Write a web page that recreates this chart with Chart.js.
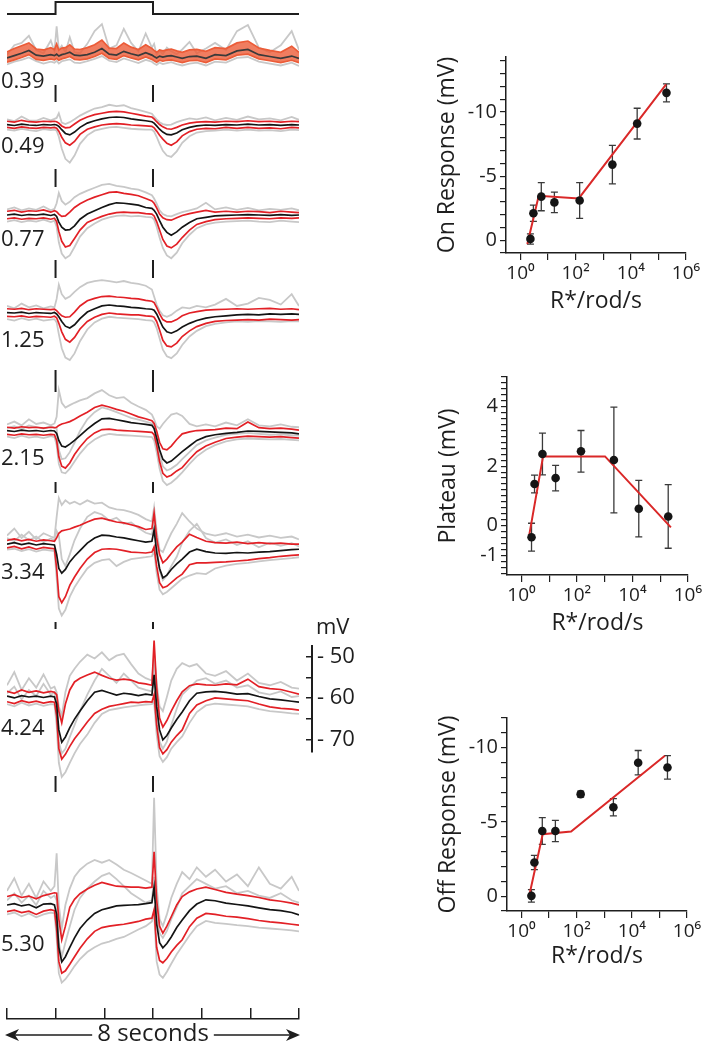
<!DOCTYPE html>
<html><head><meta charset="utf-8">
<script src="https://cdn.jsdelivr.net/npm/chart.js@4.4.1/dist/chart.umd.min.js"></script>
<style>
html,body{margin:0;padding:0;background:#fff;}
body{width:704px;height:1044px;position:relative;overflow:hidden;font-family:'Open Sans',sans-serif;color:#1e1e1e;}
canvas{position:absolute;}
.lbl{position:absolute;font-size:22px;line-height:22px;white-space:nowrap;color:#1e1e1e;}
</style></head><body>
<script>
// ---------------- DATA ----------------
// time grid (s) of the voltage traces
const T = [0,0.2,0.4,0.6,0.8,1.0,1.2,1.3,
  1.36,1.42,1.5,1.6,1.72,1.85,2.0,2.2,2.4,2.6,2.8,3.0,3.2,3.4,3.6,3.8,3.97,
  4.03,4.1,4.18,4.27,4.38,4.5,4.65,4.8,5.0,5.2,5.45,5.7,6.0,6.3,6.6,6.9,7.2,7.5,7.8,8.0];
const intensities = ['0.39','0.49','0.77','1.25','2.15','3.34','4.24','5.30'];
const stimTimes = [0, 1.33, 4.0, 8];
const stimLevels = [0, 1, 0, 0];
const timeTicks = [0, 1.333, 2.667, 4, 5.333, 6.667, 8];
const scaleBarTicks = [-70, -65, -60, -55, -50];

// voltage relative to rest (mV): mean, mean+SD, mean-SD, individual traces
const mean039 = [-0.2,0.3,0.8,1.4,0.4,0.2,0.5,0.3, 0.6,0.2,0.5,0.7,1.0,0.4,0.3,0.5,1.0,1.8,0.6,0.4,1.2,0.7,0.3,0.9,0.4, 0.1,-0.2,0.2,0,0.2,0.3,0,-0.3,0.1,0.2,-0.3,0.5,0.3,1.3,1.6,0.5,0.1,-0.3,0.2,-0.3];
const up039 = [1.1,1.8,2.4,3.0,1.7,1.5,2.0,1.6, 2.8,1.5,1.9,2.0,2.6,1.7,1.6,2.0,2.6,3.6,1.9,1.8,3.0,2.1,1.6,2.6,1.8, 1.4,1.0,1.5,1.3,1.5,1.7,1.3,1.0,1.5,1.6,1.2,2.0,1.8,3.0,3.4,1.9,1.4,1.0,2.3,1.0];
const lo039 = [-1.1,-0.6,-0.1,0.5,-0.5,-0.7,-0.4,-0.6, -0.3,-0.7,-0.4,-0.2,0.1,-0.5,-0.6,-0.4,0.1,0.8,-0.3,-0.5,0.3,-0.2,-0.6,0,-0.5, -0.8,-1.1,-0.7,-0.9,-0.7,-0.6,-0.9,-1.2,-0.8,-0.7,-1.2,-0.4,-0.6,0.4,0.6,-0.4,-0.8,-1.2,-0.7,-1.2];
const g1_039 = [0.5,2.5,3.0,4.5,1.5,0.8,3.5,1.2, 6.5,1.5,2.4,1.0,4.2,1.0,0.8,2.8,5.5,7.0,1.8,2.5,6.0,3.0,1.2,5.0,2.0, 2.8,0.5,1.4,0.6,2.0,1.2,0.6,1.6,3.2,0.8,1.8,3.0,1.5,5.5,6.8,2.0,1.0,2.5,5.5,1.5];
const g2_039 = [-1.6,-1.0,-0.6,-0.1,-0.9,-1.4,-1.0,-1.2, -0.8,-1.4,-0.9,-0.7,-0.5,-1.2,-1.3,-0.9,-0.4,0.2,-0.8,-1.1,-0.3,-0.8,-1.3,-0.6,-1.0, -1.4,-1.7,-1.2,-1.5,-1.3,-1.1,-1.5,-1.8,-1.4,-1.2,-1.8,-1.0,-1.2,-0.2,0,-1.0,-1.4,-1.8,-1.2,-1.9];

const mean049 = [0.1,-0.1,0.2,0,-0.1,0.1,0,0.1, 0,-0.3,-1.0,-1.8,-2.1,-1.5,-0.5,0.4,0.9,1.3,1.6,1.7,1.6,1.3,1.1,0.9,0.7, 0.4,-0.2,-0.9,-1.5,-2.0,-2.1,-1.7,-1.0,-0.5,-0.2,0,-0.1,0.1,0,0.2,0,0.1,-0.1,0.1,0];
const up049 = [0.8,0.6,1.0,0.7,0.6,0.8,0.7,0.8, 0.7,0.4,-0.2,-0.6,-0.5,0.2,1.0,1.7,2.2,2.5,2.8,2.9,2.8,2.5,2.2,1.9,1.7, 1.3,0.7,0.1,-0.4,-0.8,-0.9,-0.5,0,0.4,0.6,0.7,0.6,0.8,0.7,0.9,0.7,0.8,0.6,0.8,0.7];
const lo049 = [-0.5,-0.7,-0.4,-0.6,-0.7,-0.5,-0.6,-0.5, -0.7,-1.3,-2.6,-3.8,-4.3,-3.5,-2.0,-0.9,-0.4,0,0.2,0.3,0.2,0,-0.1,-0.2,-0.3, -0.6,-1.3,-2.2,-3.0,-3.9,-4.3,-3.6,-2.3,-1.4,-0.9,-0.7,-0.8,-0.5,-0.7,-0.5,-0.7,-0.6,-0.8,-0.5,-0.6];
const g1_049 = [1.2,0.8,1.8,1.0,0.9,1.5,1.0,1.3, 1.5,2.5,0.5,0.2,0.6,1.2,2.0,2.8,3.5,3.8,4.3,4.0,4.2,3.6,3.2,2.8,2.4, 1.8,1.2,0.6,0.2,0,0.1,0.6,1.0,1.4,1.2,1.6,1.0,1.5,1.1,1.8,1.2,1.4,1.0,1.7,1.1];
const g2_049 = [-1.0,-1.2,-0.8,-1.1,-1.3,-0.9,-1.1,-1.0, -1.2,-2.5,-5.0,-7.2,-8.0,-6.5,-4.0,-2.2,-1.2,-0.8,-0.5,-0.4,-0.6,-0.8,-0.9,-1.0,-1.0, -1.4,-2.5,-4.0,-5.5,-6.5,-6.8,-5.6,-3.8,-2.4,-1.6,-1.3,-1.2,-1.0,-1.2,-1.0,-1.2,-1.1,-1.3,-1.0,-1.1];

const mean077 = [0,0.2,-0.1,0.1,0,0.2,-0.1,0.1, -0.3,-1.5,-2.6,-3.2,-3.1,-2.3,-0.9,0.2,0.9,1.6,2.2,2.6,2.5,2.3,2.1,1.6,1.4, 1.0,0.2,-1.2,-2.6,-3.7,-4.3,-3.6,-2.6,-1.6,-0.8,-0.5,-0.2,-0.1,0,0.1,0,-0.1,0.1,-0.1,0];
const up077 = [0.8,1.0,0.6,0.9,0.8,1.1,0.6,0.9, 0.7,0.2,-0.3,-0.2,0.6,1.6,2.4,3.2,3.8,4.3,4.8,4.9,4.6,4.4,4.1,3.5,3.0, 2.5,1.5,0.2,-0.6,-1.0,-1.1,-0.6,-0.1,0.3,0.6,1.0,0.6,0.8,0.6,0.8,0.7,0.5,0.8,0.6,0.5];
const lo077 = [-0.8,-0.6,-0.9,-0.7,-0.8,-0.6,-0.9,-0.7, -1.4,-3.5,-5.6,-6.8,-6.5,-5.0,-3.2,-1.6,-0.9,-0.3,0.2,0.5,0.6,0.5,0.5,0.3,0.2, -0.2,-1.4,-3.2,-5.2,-6.6,-7.0,-6.2,-4.8,-3.2,-2.0,-1.4,-1.0,-0.8,-0.7,-0.6,-0.7,-0.8,-0.6,-0.7,-0.6];
const g1_077 = [1.2,1.6,1.0,1.4,1.1,1.8,1.0,1.3, 2.5,4.7,3.0,2.2,2.8,3.8,4.5,5.2,5.8,6.4,6.6,6.2,6.0,5.6,5.4,4.8,4.2, 3.5,2.4,1.0,0.2,-0.2,-0.3,0.2,0.6,1.0,1.4,2.6,1.2,1.6,1.1,1.5,1.0,1.3,1.1,1.4,1.0];
const g2_077 = [-1.4,-1.1,-1.5,-1.2,-1.4,-1.0,-1.5,-1.2, -2.5,-5.8,-8.2,-9.2,-8.6,-6.8,-4.6,-2.8,-1.8,-1.0,-0.5,-0.2,-0.1,-0.3,-0.2,-0.4,-0.5, -1.0,-2.5,-4.8,-7.0,-8.6,-9.2,-8.0,-6.0,-4.2,-2.8,-2.0,-1.6,-1.4,-1.3,-1.2,-1.4,-1.5,-1.2,-1.4,-1.5];

const mean125 = [0.1,0,0.2,-0.1,0.1,0,-0.1,0.1, -0.2,-0.8,-1.8,-2.8,-3.2,-2.5,-1.2,0.2,0.9,1.5,1.7,1.5,1.4,1.2,1.1,0.9,0.8, 0.6,-0.2,-1.5,-3.0,-4.0,-4.3,-3.8,-3.0,-2.2,-1.6,-1.1,-0.8,-0.6,-0.4,-0.3,-0.4,-0.2,-0.3,-0.2,-0.3];
const up125 = [0.9,0.8,1.0,0.7,0.9,0.8,0.7,0.8, 0.5,0,-0.6,-0.9,-0.8,0.2,1.5,2.6,3.1,3.5,3.6,3.4,3.3,3.1,3.0,2.7,2.5, 2.2,1.2,-0.2,-1.4,-1.9,-1.9,-1.4,-0.6,0,0.3,0.6,0.7,0.8,0.9,0.8,0.9,1.0,0.8,0.9,0.7];
const lo125 = [-0.7,-0.8,-0.6,-0.9,-0.7,-0.8,-0.9,-0.7, -1.0,-2.2,-4.0,-5.6,-6.2,-5.2,-3.4,-1.8,-0.9,-0.3,0,-0.2,-0.3,-0.4,-0.4,-0.6,-0.7, -0.9,-1.8,-3.6,-5.8,-7.0,-7.2,-6.4,-5.0,-3.8,-2.9,-2.2,-1.8,-1.6,-1.5,-1.4,-1.5,-1.3,-1.4,-1.5,-1.4];
const g1_125 = [1.5,1.0,2.0,1.2,1.6,1.0,1.4,1.2, 3.0,6.0,4.0,3.0,3.5,4.5,5.5,6.4,6.8,7.0,6.8,6.5,6.8,6.4,6.2,5.8,5.0, 3.5,1.8,0.5,-0.5,-0.8,-0.4,0.5,1.2,1.0,1.5,1.2,1.8,3.0,1.5,2.0,3.2,2.8,1.8,4.0,1.5];
const g2_125 = [-1.3,-1.6,-1.1,-1.5,-1.2,-1.6,-1.4,-1.3, -2.0,-4.5,-7.5,-9.5,-10.0,-8.6,-6.0,-3.5,-2.0,-1.2,-0.8,-1.0,-1.1,-1.2,-1.3,-1.5,-1.6, -2.0,-3.2,-5.4,-7.8,-9.2,-9.6,-8.6,-6.8,-5.0,-3.8,-2.8,-2.3,-2.0,-1.8,-1.9,-1.7,-1.8,-1.9,-1.7,-1.8];

const mean215 = [0.1,-0.1,0.2,0,0.1,-0.1,0.1,0, -0.5,-2.0,-3.2,-3.4,-2.8,-2.0,-1.0,0.4,1.6,2.6,2.7,2.4,2.1,1.8,1.6,1.4,1.2, 0.5,-1.5,-4.0,-6.0,-6.8,-6.4,-5.4,-4.4,-3.2,-2.0,-1.2,-0.8,-0.5,-0.3,0,-0.1,-0.2,-0.3,-0.4,-0.6];
const up215 = [0.8,0.6,0.9,0.7,0.8,0.6,0.8,0.7, 0.8,1.2,1.5,1.7,2.0,2.5,3.2,4.0,5.0,5.5,5.1,4.6,4.2,3.6,3.0,2.6,2.2, 1.6,0,-2.4,-3.8,-4.0,-3.2,-1.8,-0.6,-0.2,0.1,0.2,0.3,0.6,0.5,1.9,0.7,0.5,0.6,0.4,0.2];
const lo215 = [-0.7,-0.9,-0.6,-0.8,-0.7,-0.9,-0.7,-0.8, -2.0,-5.5,-7.5,-7.9,-6.8,-5.0,-3.4,-1.6,-0.4,0.3,0.4,0.2,0.1,0,-0.1,-0.2,-0.3, -0.8,-3.0,-6.5,-9.0,-9.8,-9.4,-8.5,-7.8,-6.0,-4.4,-3.2,-2.4,-1.6,-1.3,-1.1,-1.2,-1.3,-1.2,-1.4,-1.5];
const g1_215 = [1.4,2.0,1.2,2.5,1.5,1.8,1.2,1.6, 3.0,8.7,6.0,5.0,5.5,6.0,6.5,7.0,8.0,8.7,7.6,7.0,7.2,6.0,5.2,4.5,3.5, 2.5,1.0,0.5,1.5,2.5,3.5,3.8,3.2,1.5,1.0,1.4,1.0,1.8,1.2,2.5,1.2,1.0,1.4,0.9,0.8];
const g2_215 = [-1.2,-1.5,-1.0,-1.4,-1.2,-1.5,-1.1,-1.3, -3.0,-7.0,-8.8,-9.0,-8.0,-6.5,-4.8,-3.0,-1.8,-1.0,-0.6,-0.8,-0.9,-1.0,-1.1,-1.2,-1.3, -2.0,-4.5,-8.0,-10.6,-11.5,-11.0,-10.0,-8.8,-7.0,-5.4,-4.0,-3.0,-2.2,-1.8,-1.6,-1.7,-1.8,-1.7,-1.9,-2.0];
const g3_215 = [0.6,1.0,0.4,1.2,0.8,0.5,1.0,0.7, 0.5,-4.0,-6.0,-5.8,-4.5,-2.5,0,2.5,4.0,5.0,4.6,4.0,3.4,2.8,2.4,2.0,1.6, 1.0,-2.0,-5.0,-7.5,-8.4,-8.0,-7.2,-6.0,-4.5,-3.0,-2.0,-1.4,-0.8,-0.6,-0.4,-0.6,-0.8,-0.7,-0.9,-1.0];

const mean334 = [0.2,0.5,0.1,0.4,0,0.3,0.1,0, -2.0,-5.0,-6.0,-5.2,-3.6,-2.4,-1.2,0.4,1.5,2.1,2.0,1.7,1.5,1.2,0.9,0.6,0.8, 3.2,-1.5,-5.0,-7.0,-6.4,-5.2,-4.0,-3.0,-1.5,-0.9,-1.4,-1.7,-1.8,-1.6,-1.7,-1.5,-1.4,-1.2,-1.0,-0.9];
const up334 = [1.0,1.3,0.9,1.2,0.8,1.1,0.9,0.8, 1.5,2.5,3.0,3.2,3.4,3.8,4.2,4.9,5.5,5.7,5.3,4.9,4.7,4.3,3.9,3.3,3.5, 6.8,1.5,-2.0,-3.8,-3.0,-1.8,-0.4,0.6,2.3,1.6,0.8,0.5,0.4,0.6,0.3,0.5,0.3,0.4,0.2,0.2];
const lo334 = [-0.6,-0.3,-0.8,-0.4,-0.9,-0.5,-0.7,-0.8, -5.0,-11.0,-12.3,-11.0,-8.6,-6.8,-5.0,-3.0,-1.6,-0.9,-0.8,-0.9,-1.2,-1.5,-1.6,-1.7,-1.5, -0.4,-4.5,-8.0,-9.1,-8.8,-8.0,-7.0,-6.2,-4.2,-3.8,-3.8,-3.7,-3.6,-3.4,-3.2,-2.9,-2.7,-2.4,-2.2,-2.1];
const g1_334 = [2.0,3.5,1.5,2.8,1.2,2.5,1.8,1.5, 6.0,10.0,8.5,9.5,8.8,9.2,8.6,9.5,8.8,9.0,8.0,7.6,7.4,7.0,6.4,5.5,5.0, 8.0,3.0,-1.0,-1.5,0.5,2.5,4.5,6.8,5.0,3.5,2.4,2.0,2.5,1.8,2.2,1.6,2.0,1.5,1.8,1.2];
const g2_334 = [-1.0,-0.8,-1.3,-0.9,-1.4,-1.0,-1.2,-1.3, -7.0,-13.5,-15.0,-13.8,-11.0,-9.0,-7.2,-5.0,-3.8,-3.2,-3.0,-4.5,-3.6,-3.0,-2.8,-2.6,-2.4, -1.2,-6.0,-9.5,-10.5,-10.0,-9.2,-8.2,-7.2,-6.5,-6.0,-6.2,-5.0,-4.4,-4.0,-3.8,-3.5,-3.2,-3.0,-2.8,-2.6];
const g3_334 = [1.5,0.8,2.2,1.0,1.8,0.6,1.4,1.0, 3.0,2.0,-3.0,-4.5,-2.0,1.0,3.5,6.0,7.0,6.5,5.2,5.8,4.5,4.8,3.6,2.6,2.2, 5.0,0,-5.5,-7.5,-6.5,-4.5,-2.5,0.5,3.0,4.5,1.5,0.5,1.2,0,0.8,-0.5,0.5,-0.2,0.4,-0.3];

const mean424 = [0.2,-0.2,0.3,0,0.2,-0.1,0.2,0, -1.5,-7.0,-9.6,-8.5,-6.5,-4.7,-3.0,-0.8,1.0,1.4,0.9,0.4,0.8,0.6,0.3,0.6,0.4, 4.7,-2.0,-7.0,-9.1,-8.2,-6.6,-4.8,-3.2,-0.8,0.8,1.1,1.2,1.0,0.6,0.7,0.1,-0.4,-0.6,-0.9,-1.1];
const up424 = [1.2,0.8,1.5,1.0,1.3,0.9,1.2,1.0, 0.5,-3.0,-5.5,-1.5,1.5,3.2,4.0,4.7,5.3,4.6,4.0,3.6,3.8,3.6,3.0,2.8,2.5, 12.0,2.0,-4.5,-6.4,-5.0,-3.0,-0.8,1.1,2.4,2.8,2.6,2.5,2.8,2.6,3.8,2.2,1.8,1.6,1.0,0.6];
const lo424 = [-1.0,-1.4,-0.8,-1.2,-0.9,-1.3,-1.0,-1.1, -4.0,-11.0,-13.2,-12.2,-10.5,-8.9,-7.4,-5.3,-3.5,-2.6,-2.0,-1.7,-1.4,-1.1,-1.2,-1.0,-1.1, 0.5,-6.0,-10.8,-12.1,-11.2,-9.6,-8.2,-7.0,-3.5,-1.7,-0.8,-0.2,-0.4,-0.6,-0.8,-1.5,-2.1,-2.4,-2.6,-2.8];
const g1_424 = [2.5,5.3,1.5,4.0,2.0,4.8,1.8,2.2, 1.0,-2.0,-4.0,1.0,4.5,6.0,7.5,9.0,8.2,9.5,7.8,8.8,9.2,7.0,5.0,4.0,3.5, 9.0,3.0,-2.0,-3.0,0,3.5,6.0,7.2,6.5,7.0,5.0,4.5,5.5,3.5,5.0,3.0,2.5,3.2,2.0,1.8];
const g2_424 = [-1.5,-2.0,-1.2,-1.8,-1.4,-1.9,-1.5,-1.6, -6.0,-14.0,-17.0,-16.0,-14.0,-12.0,-10.0,-8.0,-5.5,-3.6,-2.8,-2.5,-2.2,-2.0,-1.8,-1.6,-1.5, -1.0,-8.0,-12.6,-13.8,-12.8,-11.0,-9.6,-8.4,-5.5,-3.2,-1.8,-1.4,-1.6,-1.8,-2.0,-2.6,-3.0,-3.2,-3.5,-3.6];
const g3_424 = [0.8,2.2,-0.5,1.5,0.2,2.8,0.5,1.0, -2.0,-9.5,-12.0,-11.0,-8.5,-6.0,-3.0,0.5,3.5,6.0,4.5,3.0,5.0,3.5,2.0,1.5,1.2, 7.0,-4.0,-9.5,-11.0,-9.5,-6.0,-2.5,0.5,2.0,3.5,4.0,2.8,3.5,2.0,2.5,1.0,0.5,1.2,0.0,0.2];

const mean530 = [0,0.3,-0.2,0.1,-0.6,0.2,0.3,0, -2.0,-9.0,-12.1,-11.0,-9.0,-7.0,-5.0,-3.2,-1.8,-1.0,-0.6,-0.2,-0.1,0,0.1,0.3,0.5, 3.8,-4.0,-8.0,-9.1,-8.2,-6.8,-4.8,-3.2,-1.2,0.2,1.1,0.9,0.4,0.1,-0.2,-0.6,-1.0,-1.2,-1.6,-2.1];
const up530 = [1.8,2.2,1.6,1.9,1.3,2.0,2.4,2.6, 2.5,-3.0,-7.4,-4.5,-0.5,1.2,2.4,3.4,4.2,4.8,4.4,4.0,3.9,3.8,3.8,3.6,3.8, 11.3,1.0,-4.5,-6.0,-4.5,-2.5,0,1.8,2.8,3.4,3.8,3.3,2.7,2.3,2.0,1.6,1.1,0.8,0.4,0];
const lo530 = [-1.4,-1.1,-1.6,-1.3,-2.0,-1.3,-1.0,-1.2, -5.0,-12.0,-14.5,-14.0,-12.6,-11.0,-9.2,-7.2,-5.6,-4.8,-4.5,-4.3,-4.1,-3.8,-3.5,-3.0,-2.8, -1.0,-9.0,-11.8,-12.3,-11.4,-10.0,-8.6,-7.4,-4.6,-2.8,-1.8,-2.0,-2.4,-2.6,-2.9,-3.3,-3.6,-3.8,-4.1,-4.3];
const g1_530 = [3.0,5.7,2.0,4.5,1.5,5.0,3.0,4.0, 11.0,0,-5.0,0,3.5,6.0,7.5,8.8,9.6,9.0,9.6,8.6,7.5,6.8,6.0,5.2,4.5, 22.8,4.0,-3.0,-4.5,-2.0,1.5,4.5,7.0,5.5,8.0,6.0,7.5,5.0,6.5,4.0,8.0,4.5,3.5,6.0,3.0];
const g2_530 = [-2.0,-1.6,-2.4,-1.8,-2.6,-2.0,-1.6,-1.8, -7.0,-14.5,-16.5,-15.8,-14.5,-13.0,-11.5,-10.0,-9.0,-8.2,-7.8,-7.2,-6.8,-6.0,-5.2,-4.5,-3.5, -1.5,-12.0,-14.8,-15.5,-14.2,-12.5,-10.5,-8.8,-6.5,-4.5,-3.4,-3.8,-4.0,-4.3,-4.5,-4.8,-5.0,-5.2,-5.4,-5.6];
const g3_530 = [1.0,2.5,0.5,2.0,0,3.0,1.5,2.0, 1.0,-8.0,-11.0,-8.0,-4.5,-1.0,1.5,3.5,5.0,6.2,6.8,5.5,4.0,2.5,1.5,0.5,1.0, 6.0,-2.0,-6.0,-7.0,-5.5,-3.0,-0.5,2.5,4.0,5.5,4.5,3.5,4.0,2.5,3.0,2.0,1.5,2.5,1.0,0.5];

// intensity-response data (R*/rod/s)
const rodRates = [2.3, 2.95, 5.7, 17, 140, 2150, 17000, 196000];
const onResp = [-0.1, -2.1, -3.4, -2.95, -3.1, -5.9, -9.1, -11.5];
const onErr  = [0.4, 0.63, 1.1, 0.8, 1.4, 1.5, 1.2, 0.7];
const onFitX = [1.78, 4.6, 130, 190000];
const onFitY = [0.3, -3.46, -3.26, -12.16];
const plateau = [-0.39, 1.40, 2.41, 1.60, 2.50, 2.21, 0.57, 0.31];
const plateauErr = [0.47, 0.30, 0.70, 0.43, 0.70, 1.78, 0.95, 1.07];
const plateauFitX = [1.86, 6.0, 1030, 245000];
const plateauFitY = [-0.37, 2.33, 2.33, -0.06];
const offResp = [-0.02, -2.27, -4.39, -4.39, -6.87, -5.99, -8.99, -8.67];
const offErr  = [0.42, 0.48, 0.9, 0.72, 0.2, 0.58, 0.82, 0.79];
const offFitX = [1.9, 5.9, 63, 158000];
const offFitY = [0, -4.17, -4.35, -9.46];
const decadeTicks = [1, 10, 100, 1000, 10000, 100000, 1000000];
const decadeLabels = {1:'10\u2070', 100:'10\u00B2', 10000:'10\u2074', 1000000:'10\u2076'};
const onLabelTicks = [0, -5, -10];
const plateauLabelTicks = [4, 2, 0, -1];
const offLabelTicks = [0, -5, -10];

// ---------------- RENDERING ----------------
Chart.defaults.font.family = "'Open Sans', sans-serif";
Chart.defaults.color = '#1e1e1e';
Chart.defaults.animation = false;
Chart.defaults.events = [];
Chart.defaults.plugins.legend.display = false;
Chart.defaults.plugins.tooltip.enabled = false;

const PX_PER_MV = 4.7;
const RED = 'rgb(226,32,38)', GRAY = 'rgb(200,200,200)', BLACK = '#141414';

function mkCanvas(left, top, w, h) {
  const c = document.createElement('canvas');
  c.width = w; c.height = h;
  c.style.left = left + 'px'; c.style.top = top + 'px';
  c.style.width = w + 'px'; c.style.height = h + 'px';
  document.body.appendChild(c);
  return c;
}
function addLabel(text, left, cy, size) {
  const d = document.createElement('div');
  d.className = 'lbl'; d.textContent = text;
  d.style.fontSize = size + 'px'; d.style.lineHeight = size + 'px';
  d.style.left = left + 'px'; d.style.top = (cy - 0.53 * size) + 'px';
  document.body.appendChild(d);
}
const pts = arr => T.map((t, i) => ({x: t, y: arr[i]}));

const stimDash = {
  id: 'stimDash',
  afterDraw(chart, args, o) {
    if (!o || o.y0 === undefined) return;
    const ctx = chart.ctx, xs = chart.scales.x;
    ctx.save(); ctx.strokeStyle = '#1e1e1e'; ctx.lineWidth = 2;
    [stimTimes[1], stimTimes[2]].forEach(t => {
      const px = xs.getPixelForValue(t);
      ctx.beginPath(); ctx.moveTo(px, o.y0); ctx.lineTo(px, o.y1); ctx.stroke();
    });
    ctx.restore();
  }
};

// stimulus trace
new Chart(mkCanvas(5, 0, 294, 18), {
  type: 'line',
  data: {datasets: [{data: stimTimes.map((t, i) => ({x: t, y: stimLevels[i]})), stepped: 'before',
    borderColor: '#1e1e1e', borderWidth: 2, pointRadius: 0}]},
  options: {responsive: false, layout: {padding: {left: 2, right: 0}},
    scales: {x: {type: 'linear', min: 0, max: 8, display: false},
             y: {min: -4 / 12, max: 1 + 2 / 12, display: false}}}
});

const panelLayout = [
  {base: 57,  top: 12,  bottom: 112, dash: null,        label: 80},
  {base: 125, top: 80,  bottom: 178, dash: [85, 102],   label: 145},
  {base: 215, top: 165, bottom: 268, dash: [169, 187],  label: 238},
  {base: 313, top: 255, bottom: 372, dash: [260, 278],  label: 339},
  {base: 431, top: 366, bottom: 497, dash: [370, 392],  label: 457},
  {base: 545, top: 478, bottom: 635, dash: [482, 493],  label: 571},
  {base: 697, top: 618, bottom: 785, dash: [622, 629],  label: 727},
  {base: 905, top: 772, bottom: 990, dash: [776, 792],  label: 943}
];
const panelSeries = [
  {mean: mean039, upper: up039, lower: lo039, grays: [g1_039, g2_039], dim: true},
  {mean: mean049, upper: up049, lower: lo049, grays: [g1_049, g2_049]},
  {mean: mean077, upper: up077, lower: lo077, grays: [g1_077, g2_077]},
  {mean: mean125, upper: up125, lower: lo125, grays: [g1_125, g2_125]},
  {mean: mean215, upper: up215, lower: lo215, grays: [g1_215, g2_215, g3_215]},
  {mean: mean334, upper: up334, lower: lo334, grays: [g1_334, g2_334, g3_334]},
  {mean: mean424, upper: up424, lower: lo424, grays: [g1_424, g2_424, g3_424]},
  {mean: mean530, upper: up530, lower: lo530, grays: [g1_530, g2_530, g3_530]}
];

panelSeries.forEach((s, i) => {
  const L = panelLayout[i];
  const c = mkCanvas(7, L.top, 292, L.bottom - L.top);
  const redC = s.dim ? 'rgb(236,92,56)' : RED;
  const ds = [
    {data: pts(s.mean), borderColor: s.dim ? '#3a3a3a' : BLACK, borderWidth: 1.7, order: 0},
    {data: pts(s.upper), borderColor: redC, borderWidth: 1.7, order: 1},
    {data: pts(s.lower), borderColor: redC, borderWidth: 1.7, order: 1,
     fill: s.dim ? '-1' : false, backgroundColor: 'rgba(236,92,56,0.8)'}
  ];
  s.grays.forEach(g => ds.push({data: pts(g), borderColor: GRAY, borderWidth: 1.8, order: 2}));
  new Chart(c, {
    type: 'line',
    data: {datasets: ds},
    options: {
      responsive: false, layout: {padding: 0},
      elements: {point: {radius: 0}, line: {tension: 0}},
      scales: {
        x: {type: 'linear', min: 0, max: 8, display: false},
        y: {type: 'linear', min: -(L.bottom - L.base) / PX_PER_MV, max: (L.base - L.top) / PX_PER_MV, display: false}
      },
      plugins: {stimDash: L.dash ? {y0: L.dash[0] - L.top, y1: L.dash[1] - L.top} : {}}
    },
    plugins: [stimDash]
  });
  addLabel(intensities[i], 1, L.label, 22);
});

// mV scale bar (aligned with the 4.24 panel, rest = -60 mV)
(function () {
  const top = 628, padTop = 10.3, yMax = -47.5, yMin = -73;
  const areaH = (yMax - yMin) * PX_PER_MV;
  const h = 142;
  new Chart(mkCanvas(306, top, 56, h), {
    type: 'scatter', data: {datasets: []},
    options: {
      responsive: false,
      layout: {padding: {top: padTop, bottom: h - padTop - areaH, left: 0, right: 0}},
      scales: {
        x: {display: false, min: 0, max: 1},
        y: {position: 'right', min: yMin, max: yMax,
            afterBuildTicks: s => { s.ticks = scaleBarTicks.map(v => ({value: v})); },
            afterFit: s => { s.width = 50; },
            grid: {drawOnChartArea: true, drawTicks: false, color: '#1e1e1e', lineWidth: 1.5},
            border: {display: true, color: '#1e1e1e', width: 2},
            ticks: {padding: 5, autoSkip: false, font: {size: 22}, color: '#1e1e1e',
                    callback: v => (v % 10 === 0 ? '- ' + (-v) : '')}}
      }
    }
  });
  addLabel('mV', 316, 626, 22);
})();

// time axis with "8 seconds" arrow
const arrowPlugin = {
  id: 'arrows',
  afterDraw(chart) {
    const ctx = chart.ctx, xs = chart.scales.x;
    const t = xs.options.title;
    ctx.save();
    ctx.font = t.font.size + "px 'Open Sans'";
    const w = ctx.measureText(t.text).width;
    const y = chart.height - t.font.size / 2 + 1;
    const x0 = xs.getPixelForValue(timeTicks[0]) - 2, x1 = xs.getPixelForValue(timeTicks[timeTicks.length - 1]) + 1;
    const cx = (xs.left + xs.right) / 2;
    ctx.strokeStyle = '#1e1e1e'; ctx.fillStyle = '#1e1e1e'; ctx.lineWidth = 1.5;
    ctx.beginPath();
    ctx.moveTo(x0 + 8, y); ctx.lineTo(cx - w / 2 - 5, y);
    ctx.moveTo(cx + w / 2 + 5, y); ctx.lineTo(x1 - 8, y);
    ctx.stroke();
    ctx.beginPath();
    ctx.moveTo(x0, y); ctx.lineTo(x0 + 14, y - 6); ctx.lineTo(x0 + 10, y); ctx.lineTo(x0 + 14, y + 6); ctx.closePath();
    ctx.moveTo(x1, y); ctx.lineTo(x1 - 14, y - 6); ctx.lineTo(x1 - 10, y); ctx.lineTo(x1 - 14, y + 6); ctx.closePath();
    ctx.fill();
    ctx.restore();
  }
};
new Chart(mkCanvas(0, 1006, 312, 40), {
  type: 'scatter', data: {datasets: []},
  options: {
    responsive: false,
    layout: {padding: {left: 7, right: 13, top: 2, bottom: 0}},
    scales: {
      x: {type: 'linear', min: 0, max: 8, position: 'bottom',
          afterBuildTicks: s => { s.ticks = timeTicks.map(v => ({value: v})); },
          afterFit: s => { s.height = 27; },
          grid: {drawOnChartArea: true, drawTicks: false, color: '#1e1e1e', lineWidth: 1.5},
          border: {display: true, color: '#1e1e1e', width: 1.5},
          ticks: {display: false},
          title: {display: true, text: '8 seconds', font: {size: 24, lineHeight: 1}, padding: {top: 0, bottom: 0}, color: '#1e1e1e'}},
      y: {display: false, min: 0, max: 1}
    }
  },
  plugins: [arrowPlugin]
});

// intensity-response plots
const errorBars = {
  id: 'errorBars',
  beforeDatasetsDraw(chart) {
    const ds = chart.data.datasets.find(d => d.errors);
    if (!ds) return;
    const ctx = chart.ctx, xs = chart.scales.x, ys = chart.scales.y;
    ctx.save(); ctx.strokeStyle = '#3a3a3a'; ctx.lineWidth = 1.3;
    ds.data.forEach((p, i) => {
      const e = ds.errors[i];
      const px = xs.getPixelForValue(p.x);
      const a = ys.getPixelForValue(p.y - e), b = ys.getPixelForValue(p.y + e);
      ctx.beginPath();
      ctx.moveTo(px, a); ctx.lineTo(px, b);
      ctx.moveTo(px - 3.5, a); ctx.lineTo(px + 3.5, a);
      ctx.moveTo(px - 3.5, b); ctx.lineTo(px + 3.5, b);
      ctx.stroke();
    });
    ctx.restore();
  }
};
function rangeTicks(a, b, step) {
  const out = []; const n = Math.round((b - a) / step);
  for (let i = 0; i <= n; i++) out.push(+(a + i * step).toFixed(4));
  return out;
}
function doseChart(o) {
  const c = mkCanvas(400, o.top, 304, o.height);
  new Chart(c, {
    type: 'scatter',
    data: {datasets: [
      {data: rodRates.map((x, i) => ({x, y: o.resp[i]})), errors: o.err, pointRadius: 4.3,
       pointBackgroundColor: '#151515', pointBorderWidth: 0, order: 0},
      {data: o.fitX.map((x, i) => ({x, y: o.fitY[i]})), showLine: true, borderColor: 'rgb(218,40,40)',
       borderWidth: 2, pointRadius: 0, order: 1}
    ]},
    options: {
      responsive: false,
      layout: {padding: {top: o.padTop, left: o.padLeft, right: o.padRight, bottom: 0}},
      scales: {
        x: {type: 'logarithmic', min: o.xMin, max: 1e6,
            afterBuildTicks: s => { s.ticks = decadeTicks.map(v => ({value: v})); },
            afterFit: s => { s.height = o.xAxisH; },
            grid: {drawOnChartArea: false, drawTicks: true, tickLength: 7, color: '#1e1e1e', lineWidth: 1.2},
            border: {display: true, color: '#1e1e1e', width: 1.5},
            ticks: {autoSkip: false, maxRotation: 0, padding: 2, font: {size: 19}, color: '#1e1e1e',
                    callback: v => decadeLabels[v] || ''},
            title: {display: true, text: 'R*/rod/s', font: {size: 23}, padding: {top: 2, bottom: 4}, color: '#1e1e1e'}},
        y: {type: 'linear', min: o.yMin, max: o.yMax, reverse: o.reverse,
            afterBuildTicks: s => { s.ticks = o.yTicks.map(v => ({value: v})); },
            afterFit: s => { s.width = 76; },
            grid: {drawOnChartArea: false, drawTicks: true, tickLength: 6, color: '#1e1e1e', lineWidth: 1.2},
            border: {display: true, color: '#1e1e1e', width: 1.5},
            ticks: {autoSkip: false, padding: 3, font: {size: 20}, color: '#1e1e1e',
                    callback: v => (o.labels.some(l => Math.abs(l - v) < 1e-6) ? String(Math.round(v)) : '')},
            title: {display: true, text: o.title, font: {size: 23}, padding: {top: 4, bottom: 2}, color: '#1e1e1e'}}
      }
    },
    plugins: [errorBars]
  });
}
doseChart({top: 40, height: 279, padTop: 17, padLeft: 30, padRight: 18, xAxisH: 66, xMin: 0.34,
  yMin: -14.3, yMax: 1.0, reverse: true, yTicks: rangeTicks(-14, 1, 1), labels: onLabelTicks,
  title: 'On Response (mV)', resp: onResp, err: onErr, fitX: onFitX, fitY: onFitY});
doseChart({top: 360, height: 281, padTop: 17, padLeft: 31, padRight: 14, xAxisH: 66, xMin: 0.32,
  yMin: -1.66, yMax: 5.0, reverse: false, yTicks: rangeTicks(-1.6, 5.0, 0.2), labels: plateauLabelTicks,
  title: 'Plateau (mV)', resp: plateau, err: plateauErr, fitX: plateauFitX, fitY: plateauFitY});
doseChart({top: 700, height: 274, padTop: 18, padLeft: 31, padRight: 17, xAxisH: 63, xMin: 0.34,
  yMin: -12.0, yMax: 1.0, reverse: true, yTicks: rangeTicks(-12, 1, 1), labels: offLabelTicks,
  title: 'Off Response (mV)', resp: offResp, err: offErr, fitX: offFitX, fitY: offFitY});
</script>
</body></html>
